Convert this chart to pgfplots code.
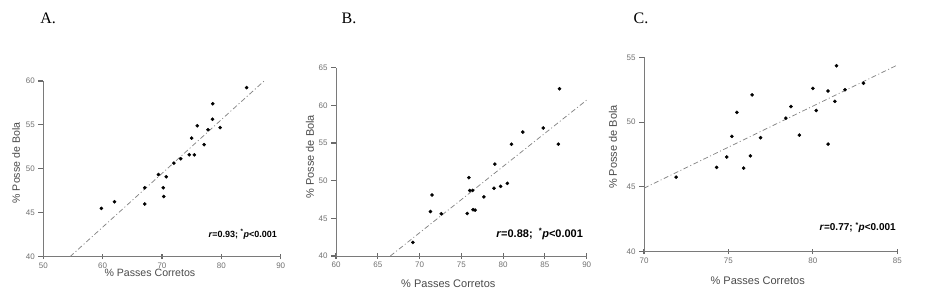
\documentclass[border=0pt]{standalone}
\usepackage{pgfplots}
\pgfplotsset{compat=1.18}
\usepackage{fontspec}
\setmainfont{Liberation Sans}
\newfontfamily\serif{Liberation Serif}
\definecolor{axisgray}{HTML}{7A7A7A}
\definecolor{tickgray}{HTML}{6A6A6A}
\definecolor{ticktext}{HTML}{707070}
\definecolor{labeltext}{HTML}{4A4A4A}
\definecolor{fitgray}{HTML}{858585}
\pgfplotsset{
 panel/.style={
  scale only axis, anchor=south west,
  axis x line=bottom, axis y line=left,
  axis line style={-, draw=axisgray, line width=1bp},
  xtick align=center, ytick align=outside,
  major tick length=5bp,
  every major tick/.append style={draw=tickgray, line width=1.1bp},
  tick label style={font=\fontsize{8bp}{9bp}\selectfont, text=ticktext},
  /pgf/number format/assume math mode=true,
  clip=false,
  label style={font=\fontsize{11bp}{12bp}\selectfont, text=labeltext},
  xlabel={\% Passes Corretos}, ylabel={\% Posse de Bola},
 },
 pts/.style={only marks, mark=*, mark size=1.6bp, black},
 fitl/.style={no marks, fitgray, line width=0.75bp, dash pattern=on 5bp off 2.5bp on 1bp off 2.5bp},
}
\begin{document}
\begin{tikzpicture}
\useasboundingbox (0,0) rectangle (925bp,291bp);
% ---------- A ----------
\begin{axis}[panel, at={(43.3bp,34.3bp)}, width=237.4bp, height=175.7bp,
  xmin=50, xmax=90, ymin=40, ymax=60, xtick={50,60,...,90}, ytick={40,45,...,60},
  label style={font=\fontsize{10.6bp}{12bp}\selectfont},
  x label style={at={(axis description cs:0.449,-0.0945)}, anchor=center},
  y label style={at={(axis description cs:-0.115,0.533)}, anchor=center}]
\addplot[fitl] coordinates {(54.5,40) (87.2,60)};
\addplot[pts] coordinates {
(59.8,45.5) (62.0,46.25) (67.1,47.85) (67.1,46.0) (69.4,49.35)
(70.2,47.85) (70.3,46.85) (70.7,49.1) (72.0,50.65) (73.15,51.15)
(74.6,51.6) (75.45,51.6) (75.0,53.5) (75.95,54.9) (77.1,52.75)
(77.75,54.45) (78.5,55.65) (78.55,57.4) (79.8,54.7) (84.25,59.25)};
\node[font=\fontsize{9bp}{10bp}\selectfont\bfseries] at (axis description cs:0.84,0.1275) {\textit{r}=0.93; \textsuperscript{*}\textit{p}<0.001};
\node[font=\serif\fontsize{16bp}{18bp}\selectfont] at (axis description cs:0.02,1.356) {A.};
\end{axis}
% ---------- B ----------
\begin{axis}[panel, at={(336bp,35bp)}, width=250.7bp, height=188.3bp,
  xmin=60, xmax=90, ymin=40, ymax=65, xtick={60,65,...,90}, ytick={40,45,...,65},
  x label style={at={(axis description cs:0.448,-0.1487)}, anchor=center},
  y label style={at={(axis description cs:-0.1037,0.527)}, anchor=center}]
\addplot[fitl] coordinates {(66.5,40) (90,60.7)};
\addplot[pts] coordinates {
(86.75,62.2) (84.8,57.0) (82.35,56.45) (81.0,54.85) (86.6,54.85)
(79.0,52.2) (75.9,50.4) (76.0,48.7) (76.35,48.7) (71.5,48.1)
(80.5,49.65) (79.7,49.25) (78.9,49.0) (77.7,47.85) (71.3,45.9)
(72.6,45.6) (75.7,45.65) (76.4,46.15) (76.65,46.1) (69.2,41.8)};
\node[font=\fontsize{11bp}{12bp}\selectfont\bfseries] at (axis description cs:0.8125,0.1168) {\textit{r}=0.88;\ \ \textsuperscript{*}\textit{p}<0.001};
\node[font=\serif\fontsize{16bp}{18bp}\selectfont] at (axis description cs:0.0519,1.261) {B.};
\end{axis}
% ---------- C ----------
\begin{axis}[panel, at={(644bp,39.3bp)}, width=253.3bp, height=194.4bp,
  xmin=70, xmax=85, ymin=40, ymax=55, xtick={70,75,...,85}, ytick={40,45,...,55},
  x label style={at={(axis description cs:0.449,-0.1507)}, anchor=center},
  y label style={at={(axis description cs:-0.1224,0.5386)}, anchor=center}]
\addplot[fitl] coordinates {(70,44.9) (85,54.4)};
\addplot[pts] coordinates {
(71.9,45.75) (74.3,46.5) (74.9,47.3) (75.2,48.9) (75.5,50.75)
(75.9,46.45) (76.3,47.4) (76.4,52.1) (76.9,48.8) (78.4,50.3)
(78.7,51.2) (79.2,49.0) (80.0,52.6) (80.2,50.9) (80.9,52.4)
(80.9,48.3) (81.3,51.6) (81.4,54.35) (81.9,52.5) (83.0,53.0)};
\node[font=\fontsize{10bp}{11bp}\selectfont\bfseries] at (axis description cs:0.8437,0.1235) {\textit{r}=0.77; \textsuperscript{*}\textit{p}<0.001};
\node[font=\serif\fontsize{16bp}{18bp}\selectfont] at (axis description cs:-0.0118,1.2) {C.};
\end{axis}
\end{tikzpicture}
\end{document}
